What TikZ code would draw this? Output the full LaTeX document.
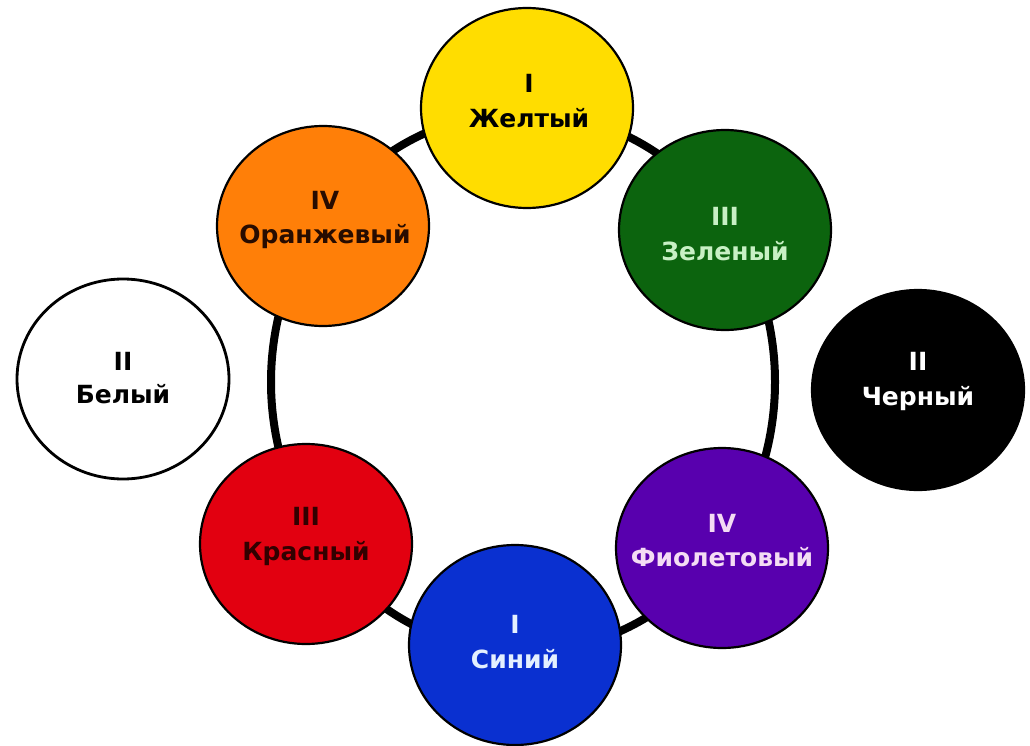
\documentclass[tikz,border=0pt]{standalone}
\usepackage{fontspec}
\setmainfont{DejaVu Sans}
\usetikzlibrary{shapes.geometric}
\definecolor{cYellow}{RGB}{255,221,0}
\definecolor{cGreen}{RGB}{12,100,14}
\definecolor{cOrange}{RGB}{255,127,8}
\definecolor{cRed}{RGB}{226,0,16}
\definecolor{cBlue}{RGB}{10,48,208}
\definecolor{cPurple}{RGB}{88,0,174}
\definecolor{tGreen}{RGB}{200,240,196}
\definecolor{tPurple}{RGB}{244,220,244}
\definecolor{tBlue}{RGB}{228,240,255}
\definecolor{tOrange}{RGB}{40,12,0}
\definecolor{tRed}{RGB}{50,0,0}
\tikzset{
  disc/.style={ellipse, draw=black, line width=2.2pt, inner sep=0pt,
    minimum width=212pt, minimum height=200pt},
  lbl/.style={anchor=base, font=\fontsize{25}{30}\selectfont\bfseries, inner sep=0pt},
  ring/.style={line width=8pt, black}
}
\begin{document}
\begin{tikzpicture}[x=1pt,y=-1pt]
\useasboundingbox (0,0) rectangle (1030,746);
\fill[white] (0,0) rectangle (1030,746);
\node[ellipse, draw=black, line width=8pt, minimum width=504pt, minimum height=540pt, inner sep=0pt] (ringshape) at (523,382) {};
% discs
\node[disc, fill=cYellow] (yellow) at (527,108) {};
\node[disc, fill=cGreen] (green) at (725,230) {};
\node[disc, fill=cOrange] (orange) at (323,226) {};
\node[disc, fill=white, line width=2.8pt] (white) at (123,379) {};
\node[disc, fill=black] (black) at (918,390) {};
\node[disc, fill=cRed] (red) at (306,544) {};
\node[disc, fill=cBlue] (blue) at (515,645) {};
\node[disc, fill=cPurple] (purple) at (722,548) {};
% labels
\node[lbl, text=black] (yellowN) at (529,93) {I};
\node[lbl, text=black] (yellowT) at (529,128) {Желтый};
\node[lbl, text=tGreen] (greenN) at (725,225) {III};
\node[lbl, text=tGreen] (greenT) at (725,260) {Зеленый};
\node[lbl, text=tOrange] (orangeN) at (325,209) {IV};
\node[lbl, text=tOrange] (orangeT) at (325,243) {Оранжевый};
\node[lbl, text=black] (whiteN) at (123,370) {II};
\node[lbl, text=black] (whiteT) at (123,403) {Белый};
\node[lbl, text=white] (blackN) at (918,370) {II};
\node[lbl, text=white] (blackT) at (918,405) {Черный};
\node[lbl, text=tRed] (redN) at (306,525) {III};
\node[lbl, text=tRed] (redT) at (306,560) {Красный};
\node[lbl, text=tBlue] (blueN) at (515,633) {I};
\node[lbl, text=tBlue] (blueT) at (515,668) {Синий};
\node[lbl, text=tPurple] (purpleN) at (722,532) {IV};
\node[lbl, text=tPurple] (purpleT) at (722,566) {Фиолетовый};
\end{tikzpicture}
\end{document}
